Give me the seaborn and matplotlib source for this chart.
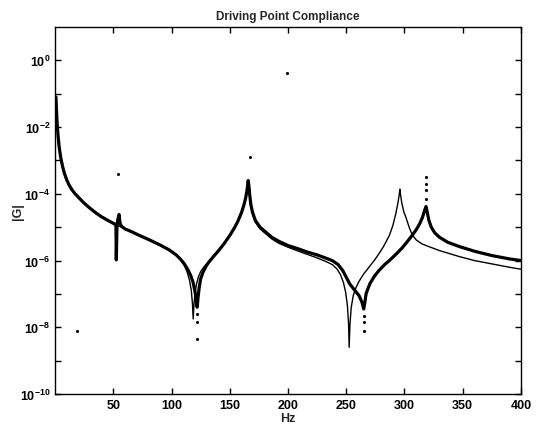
"""
Driving point compliance |G| vs frequency (measured vs model), log scale.
"""

import numpy as np
import pandas as pd
import matplotlib
matplotlib.use("Agg")
import matplotlib.pyplot as plt
import matplotlib.ticker as ticker
import seaborn as sns

# --- low-frequency part, shared by both curves (Hz, log10 |G|)
low_hz = [0.8, 1.2, 1.6, 2, 2.6, 3.4, 4.2, 5, 6.5, 8, 10, 12, 14.6, 17, 20, 25, 30,
          35, 40, 46, 51.5]
low_log = [-1.1, -1.45, -1.75, -1.98, -2.25, -2.55, -2.75, -2.93, -3.18, -3.38,
           -3.58, -3.73, -3.88, -3.99, -4.1, -4.28, -4.43, -4.57, -4.69, -4.81, -4.91]

# --- model curve (thin line)
model_hz = low_hz + [60, 66, 72, 81, 90, 98, 104, 108, 111, 113.5, 115.5, 117, 118,
                     118.6, 119.3, 120.3, 121.5, 123, 125, 128, 132, 136, 140, 145,
                     150, 154, 157, 160, 162, 163.5, 164.7, 165.5, 165.8, 166.3, 167,
                     168, 169.5, 172, 176, 181, 186, 192, 200, 209, 217, 225, 232,
                     238, 242, 245, 247.5, 249.5, 251, 252, 252.5, 253.2, 254.3, 256,
                     258.5, 261, 265, 269.5, 274, 278, 282, 287, 290, 292.5, 294.5,
                     295.5, 296, 296.7, 297.8, 299.5, 301, 304, 306.5, 310, 315, 320,
                     330, 347, 360, 375, 390, 400]
model_log = low_log + [-5.05, -5.14, -5.24, -5.38, -5.53, -5.68, -5.83, -5.98, -6.15,
                       -6.35, -6.6, -6.9, -7.3, -7.75, -7.3, -6.95, -6.7, -6.5, -6.33,
                       -6.18, -6.03, -5.88, -5.72, -5.5, -5.25, -5.02, -4.82, -4.57,
                       -4.35, -4.15, -3.92, -3.7, -3.6, -3.72, -3.98, -4.3, -4.6,
                       -4.85, -5.05, -5.2, -5.35, -5.48, -5.6, -5.72, -5.82, -5.92,
                       -6.02, -6.12, -6.25, -6.42, -6.65, -6.95, -7.35, -7.9, -8.6,
                       -7.9, -7.4, -7.05, -6.8, -6.62, -6.4, -6.2, -6.0, -5.8, -5.58,
                       -5.25, -4.95, -4.6, -4.25, -4.02, -3.86, -4.05, -4.3, -4.55,
                       -4.68, -5.0, -5.22, -5.38, -5.5, -5.57, -5.7, -5.88, -6.0,
                       -6.1, -6.2, -6.26]

# --- measured curve (thick line)
meas_hz = low_hz + [52.3, 52.6, 53.2, 54, 55, 55.8, 57, 60, 66, 72, 81, 90, 98, 104,
                    108, 111, 114, 116.5, 118.5, 120, 121.2, 122, 122.8, 123.8, 125,
                    127, 130, 132, 136, 140, 145, 150, 154, 157, 160, 162, 163.5,
                    164.7, 165.5, 165.8, 166.3, 167, 168, 169.5, 172, 176, 181, 186,
                    192, 200, 209, 217, 225, 232, 238, 243, 247, 250, 253, 257, 261,
                    263.5, 265, 266, 267, 268.5, 270.5, 274, 278, 283, 287, 293, 298,
                    302, 306.5, 310, 313, 315.5, 317.2, 318.5, 319.5, 321, 323, 326,
                    330, 337, 347, 360, 375, 390, 400]
meas_log = low_log + [-4.95, -5.98, -4.95, -4.75, -4.62, -4.88, -4.97, -5.05, -5.14,
                      -5.24, -5.38, -5.53, -5.68, -5.83, -5.97, -6.1, -6.27, -6.45,
                      -6.65, -6.9, -7.15, -7.4, -7.1, -6.8, -6.55, -6.35, -6.15,
                      -6.05, -5.88, -5.72, -5.5, -5.25, -5.02, -4.82, -4.57, -4.35,
                      -4.15, -3.92, -3.7, -3.6, -3.72, -3.98, -4.3, -4.55, -4.8,
                      -5.0, -5.15, -5.3, -5.42, -5.55, -5.65, -5.75, -5.83, -5.92,
                      -6.0, -6.12, -6.3, -6.5, -6.7, -6.88, -7.05, -7.25, -7.45,
                      -7.25, -7.0, -6.85, -6.68, -6.48, -6.3, -6.12, -6.0, -5.8,
                      -5.62, -5.45, -5.25, -5.08, -4.9, -4.7, -4.5, -4.38, -4.55,
                      -4.8, -5.0, -5.17, -5.3, -5.45, -5.58, -5.72, -5.85, -5.95, -6.0]

# --- stray measured points
stray_hz = [54, 167, 199, 19, 122, 121.5, 122.3, 265.5, 265, 265.3, 318.5, 318.2,
            318.5, 318.4, 166, 166.4]
stray_log = [-3.41, -2.9, -0.39, -8.1, -8.35, -7.6, -7.85, -8.1, -7.65, -7.85,
             -3.5, -3.71, -3.89, -4.16, -3.75, -3.9]

model = pd.DataFrame({"Hz": model_hz, "G": 10.0 ** np.array(model_log)})
meas = pd.DataFrame({"Hz": meas_hz, "G": 10.0 ** np.array(meas_log)})
stray = pd.DataFrame({"Hz": stray_hz, "G": 10.0 ** np.array(stray_log)})

sns.set_style("ticks")
plt.rcParams["font.family"] = ["Liberation Sans", "DejaVu Sans"]
plt.rcParams["font.weight"] = "bold"
plt.rcParams["mathtext.fontset"] = "custom"
plt.rcParams["mathtext.rm"] = "Liberation Sans:bold"
plt.rcParams["mathtext.bf"] = "Liberation Sans:bold"

fig = plt.figure(figsize=(5.41, 4.31), dpi=100)
ax = fig.add_axes([0.1017, 0.0835, 0.8613, 0.8515])

sns.lineplot(data=meas, x="Hz", y="G", ax=ax, color="black", lw=2.3, sort=False)
sns.lineplot(data=model, x="Hz", y="G", ax=ax, color="black", lw=1.0, sort=False)
sns.scatterplot(data=stray, x="Hz", y="G", ax=ax, color="black", s=5, linewidth=0)

ax.set_yscale("log")
ax.set_xlim(0, 400)
ax.set_ylim(1e-10, 1e1)
ax.set_xticks([50, 100, 150, 200, 250, 300, 350, 400])
ax.yaxis.set_major_locator(ticker.FixedLocator([10.0 ** k for k in range(-10, 1)]))
ax.yaxis.set_minor_locator(ticker.NullLocator())
ax.yaxis.set_major_formatter(ticker.FuncFormatter(
    lambda v, p: r"$10^{%d}$" % round(np.log10(v)) if round(np.log10(v)) % 2 == 0 else ""))

ax.tick_params(direction="in", length=4, width=1, top=True, right=True,
               labelsize=9, colors="black")
for s in ax.spines.values():
    s.set_color("black")
    s.set_linewidth(1.0)

ax.set_title("Driving Point Compliance", fontsize=8.5, fontweight="bold", pad=6)
ax.set_xlabel("Hz", fontsize=9, fontweight="bold", labelpad=1)
ax.set_ylabel("|G|", fontsize=9, fontweight="bold", labelpad=-3)

fig.savefig("out.png", dpi=100)
